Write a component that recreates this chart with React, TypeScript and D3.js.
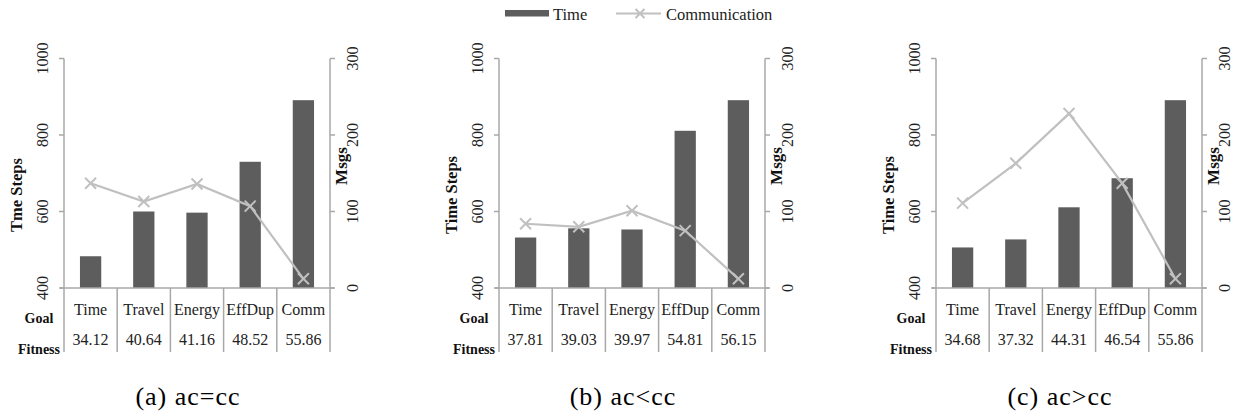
import React from "react";
import * as d3 from "d3";

// Goal categories shared by all three panels
const goals = ["Time", "Travel", "Energy", "EffDup", "Comm"];

// Panel (a) ac=cc
const timeA = [483, 600, 597, 730, 891];
const msgsA = [137, 113, 136, 107, 12];
const fitnessA = [34.12, 40.64, 41.16, 48.52, 55.86];

// Panel (b) ac<cc
const timeB = [532, 556, 553, 811, 891];
const msgsB = [84, 80, 101, 75, 12];
const fitnessB = [37.81, 39.03, 39.97, 54.81, 56.15];

// Panel (c) ac>cc
const timeC = [506, 527, 611, 687, 891];
const msgsC = [111, 163, 228, 137, 12];
const fitnessC = [34.68, 37.32, 44.31, 46.54, 55.86];

const timeTicks = [400, 600, 800, 1000];
const msgTicks = [0, 100, 200, 300];

const captions = ["(a) ac=cc", "(b) ac<cc", "(c) ac>cc"];
const leftTitles = ["Tme Steps", "Time Steps", "Time Steps"];

const W = 1238;
const H = 418;
const panelLefts = [64, 499, 936];
const panelWidth = 266;
const plotTop = 58.5;
const plotBottom = 288;
const tableBottom = 352;

const BAR = "#5d5d5d";
const LINE = "#c0c0c0";
const AXIS = "#a8a8a8";
const SERIF = "'Liberation Serif', 'Times New Roman', serif";

type PanelProps = {
  left: number;
  time: number[];
  msgs: number[];
  fitness: number[];
  caption: string;
  leftTitle: string;
};

function Panel({ left, time, msgs, fitness, caption, leftTitle }: PanelProps) {
  const right = left + panelWidth;
  const x = d3.scaleBand<string>().domain(goals).range([left, right]).padding(0);
  const yT = d3.scaleLinear().domain([400, 1000]).range([plotBottom, plotTop]);
  const yM = d3.scaleLinear().domain([0, 300]).range([plotBottom, plotTop]);
  const bw = x.bandwidth() * 0.4;
  const cx = (g: string) => (x(g) as number) + x.bandwidth() / 2;

  const line = d3
    .line<number>()
    .x((_, i) => cx(goals[i]))
    .y((v) => yM(v));

  const mk = 5.5;

  return (
    <g>
      {/* bars */}
      {goals.map((g, i) => (
        <rect
          key={g}
          x={cx(g) - bw / 2}
          y={yT(time[i])}
          width={bw}
          height={yT(400) - yT(time[i])}
          fill={BAR}
        />
      ))}

      {/* axes */}
      <line x1={left} x2={left} y1={plotTop} y2={tableBottom} stroke={AXIS} strokeWidth={1.5} />
      <line x1={right} x2={right} y1={plotTop} y2={tableBottom} stroke={AXIS} strokeWidth={1.5} />
      <line x1={left - 4} x2={right + 4} y1={plotBottom} y2={plotBottom} stroke={AXIS} strokeWidth={1.5} />
      {goals.slice(1).map((g) => (
        <line
          key={g}
          x1={x(g) as number}
          x2={x(g) as number}
          y1={plotBottom}
          y2={tableBottom}
          stroke={AXIS}
          strokeWidth={1.5}
        />
      ))}
      {timeTicks.map((t) => (
        <g key={t}>
          <line x1={left - 5} x2={left} y1={yT(t)} y2={yT(t)} stroke={AXIS} strokeWidth={1.5} />
          <text
            transform={`translate(${left - 16},${yT(t)}) rotate(-90)`}
            textAnchor="middle"
            fontFamily={SERIF}
            fontSize={16}
            fill="#222"
          >
            {t}
          </text>
        </g>
      ))}
      {msgTicks.map((t) => (
        <g key={t}>
          <line x1={right} x2={right + 5} y1={yM(t)} y2={yM(t)} stroke={AXIS} strokeWidth={1.5} />
          <text
            transform={`translate(${right + 28},${yM(t)}) rotate(-90)`}
            textAnchor="middle"
            fontFamily={SERIF}
            fontSize={16}
            fill="#222"
          >
            {t}
          </text>
        </g>
      ))}

      {/* axis titles */}
      <text
        transform={`translate(${left - 42},195) rotate(-90)`}
        textAnchor="middle"
        fontFamily={SERIF}
        fontWeight="bold"
        fontSize={16.5}
        fill="#111"
      >
        {leftTitle}
      </text>
      <text
        transform={`translate(${right + 17},166) rotate(-90)`}
        textAnchor="middle"
        fontFamily={SERIF}
        fontWeight="bold"
        fontSize={17}
        fill="#111"
      >
        Msgs
      </text>

      {/* communication line */}
      <path d={line(msgs) || ""} fill="none" stroke={LINE} strokeWidth={2.2} />
      {msgs.map((v, i) => {
        const px = cx(goals[i]);
        const py = yM(v);
        return (
          <path
            key={i}
            d={`M${px - mk},${py - mk}L${px + mk},${py + mk}M${px - mk},${py + mk}L${px + mk},${py - mk}`}
            stroke={LINE}
            strokeWidth={2}
            fill="none"
          />
        );
      })}

      {/* data table */}
      <text x={left - 25} y={323} textAnchor="middle" fontFamily={SERIF} fontWeight="bold" fontSize={14} fill="#111">
        Goal
      </text>
      <text x={left - 25} y={354} textAnchor="middle" fontFamily={SERIF} fontWeight="bold" fontSize={14} fill="#111">
        Fitness
      </text>
      {goals.map((g, i) => (
        <g key={g}>
          <text x={cx(g)} y={315} textAnchor="middle" fontFamily={SERIF} fontSize={16} fill="#222">
            {g}
          </text>
          <text x={cx(g)} y={345} textAnchor="middle" fontFamily={SERIF} fontSize={16} fill="#222">
            {fitness[i].toFixed(2)}
          </text>
        </g>
      ))}

      {/* caption */}
      <text
        x={left + 124}
        y={405}
        textAnchor="middle"
        fontFamily={SERIF}
        fontSize={26}
        letterSpacing={1}
        fill="#000"
      >
        {caption}
      </text>
    </g>
  );
}

export default function App() {
  const panels = [
    { time: timeA, msgs: msgsA, fitness: fitnessA },
    { time: timeB, msgs: msgsB, fitness: fitnessB },
    { time: timeC, msgs: msgsC, fitness: fitnessC },
  ];
  return (
    <svg
      width={W}
      height={H}
      style={{ position: "absolute", left: 0, top: 0, display: "block", background: "#fff" }}
    >
      <rect width={W} height={H} fill="#fff" />
      {/* legend */}
      <rect x={505} y={10} width={44} height={6.5} fill={BAR} />
      <text x={553} y={20} fontFamily={SERIF} fontSize={16.5} fill="#222">
        Time
      </text>
      <line x1={616} x2={661} y1={13.5} y2={13.5} stroke={LINE} strokeWidth={2} />
      <path d="M635.5,9L644.5,18M635.5,18L644.5,9" stroke={LINE} strokeWidth={2} fill="none" />
      <text x={666} y={20} fontFamily={SERIF} fontSize={16.5} fill="#222">
        Communication
      </text>

      {panels.map((p, i) => (
        <Panel
          key={i}
          left={panelLefts[i]}
          time={p.time}
          msgs={p.msgs}
          fitness={p.fitness}
          caption={captions[i]}
          leftTitle={leftTitles[i]}
        />
      ))}
    </svg>
  );
}
